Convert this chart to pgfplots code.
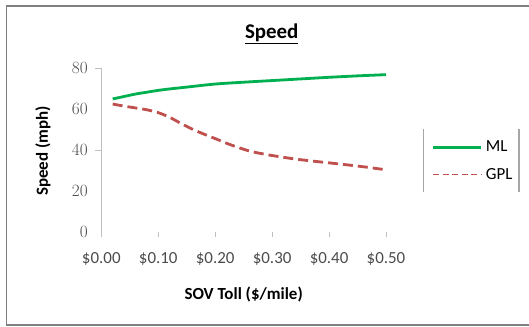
\documentclass[border=0pt]{standalone}
\usepackage{pgfplots}
\pgfplotsset{compat=1.18}
\usepackage{fontspec}
\setmainfont{Carlito}
\definecolor{mlgreen}{HTML}{00B050}
\definecolor{gplred}{HTML}{C0504D}
\definecolor{framegray}{HTML}{808080}
\definecolor{axgray}{HTML}{BFBFBF}
\begin{document}
\begin{tikzpicture}
\useasboundingbox (0,0) rectangle (529bp,327bp);
\fill[white] (0,0) rectangle (529bp,327bp);
\draw[framegray, line width=1.8bp] (529bp,321.3bp) -- (6.5bp,321.3bp) -- (6.5bp,2bp) -- (529bp,2bp);
\node[font=\bfseries\fontsize{21}{24}\selectfont] at (271.7bp,293.5bp) {\underline{Speed}};
\begin{axis}[
  at={(101.3bp,95.3bp)}, anchor=south west,
  scale only axis, width=284.7bp, height=163.4bp,
  xmin=0, xmax=0.5, ymin=0, ymax=80,
  axis lines=left,
  axis line style={-, draw=axgray, line width=0.9bp},
  x axis line style={draw=none},
  xtick={0,0.1,0.2,0.3,0.4,0.5},
  xticklabels={\$0.00,\$0.10,\$0.20,\$0.30,\$0.40,\$0.50},
  ytick={0,20,40,60,80},
  major y tick style={draw=none},
  minor ytick={40,80},
  minor y tick style={draw=axgray, line width=0.9bp},
  minor tick length=6bp,
  major x tick style={draw=axgray, line width=0.9bp},
  major tick length=5bp,
  tick align=outside,
  xticklabel style={font=\fontsize{17}{19}\selectfont, text=black!70, yshift=-12bp},
  yticklabel style={font=\fontsize{16.5}{18}\selectfont, text=black!70, xshift=-5bp},
  xlabel={SOV Toll (\$/mile)},
  ylabel={Speed (mph)},
  every axis x label/.style={at={(axis description cs:0.5,-0.387)}, anchor=center, font=\bfseries\fontsize{17}{20}\selectfont},
  every axis y label/.style={at={(axis description cs:-0.205,0.494)}, anchor=center, rotate=90, font=\bfseries\fontsize{17}{20}\selectfont},
  clip=false,
  legend style={draw=none, fill=none, inner sep=0pt, at={(axis description cs:1.1605,0.434)}, anchor=west,
    font=\fontsize{17}{20}\selectfont, row sep=11bp, column sep=1bp},
  legend cell align=left,
  legend image code/.code={\draw[#1] (0bp,0bp) -- (48bp,0bp);},
]
\addlegendimage{mlgreen, line width=3bp}
\addlegendentry{ML}
\addlegendimage{gplred, line width=1.6bp, dash pattern=on 6bp off 3.5bp}
\addlegendentry{GPL}
\addplot[mlgreen, line width=2.8bp, smooth, forget plot] coordinates {
(0.02,65.0) (0.04,66.2) (0.06,67.4) (0.08,68.3) (0.10,69.2) (0.12,69.9) (0.15,70.8)
(0.20,72.3) (0.25,73.2) (0.30,74.0) (0.35,74.8) (0.40,75.6) (0.45,76.3) (0.50,76.9)};
\addplot[gplred, line width=2.8bp, dash pattern=on 10bp off 5bp, smooth, forget plot] coordinates {
(0.02,62.5) (0.04,61.5) (0.06,60.6) (0.08,59.7) (0.10,58.3) (0.12,56.0) (0.14,53.0)
(0.16,50.2) (0.18,47.8) (0.20,45.6) (0.22,43.3) (0.24,41.3) (0.26,39.5) (0.28,38.3)
(0.30,37.3) (0.34,35.6) (0.38,34.3) (0.42,33.1) (0.46,31.8) (0.50,30.3)};
\end{axis}
\draw[black!35, line width=1.5bp] (423.3bp,197.7bp) -- (423.3bp,135.3bp);
\draw[black!35, line width=1.5bp] (519bp,197.7bp) -- (519bp,135.3bp);
\end{tikzpicture}
\end{document}
